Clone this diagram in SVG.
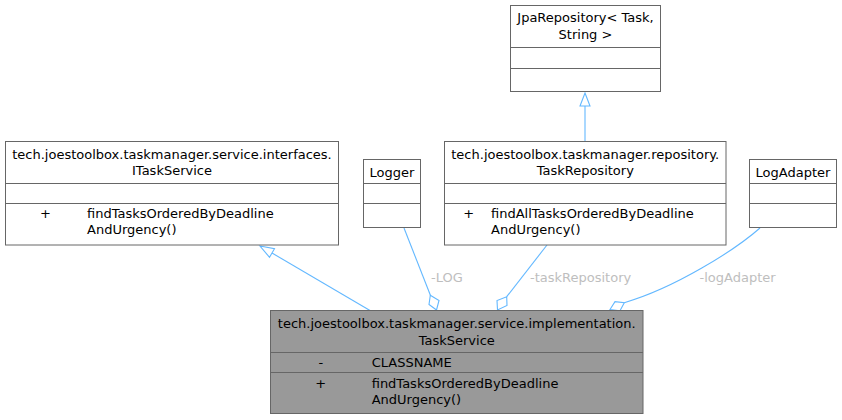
<svg xmlns="http://www.w3.org/2000/svg" width="842" height="420" viewBox="0 0 842 420">
<defs>
<style>
.box{fill:#ffffff;stroke:#666666;stroke-width:1}
.main{fill:#999999;stroke:#666666;stroke-width:1}
.div{stroke:#666666;stroke-width:1;fill:none}
text{font-family:"DejaVu Sans","Liberation Sans",sans-serif;font-size:13px;fill:#000000}
.c{text-anchor:middle}
.lbl{fill:#bebebe}
.edge{stroke:#63b8ff;stroke-width:1.1;fill:none}
.head{stroke:#63b8ff;stroke-width:1.1;fill:#ffffff}
</style>
</defs>
<rect width="842" height="420" fill="#ffffff"/>

<g id="connectors">
  <!-- TaskService -> ITaskService (generalization) -->
  <path class="edge" d="M370,310.5 L272,253"/>
  <polygon class="head" points="260,246 274.5,248.7 269.5,257.3"/>
  <!-- TaskRepository -> JpaRepository (generalization) -->
  <path class="edge" d="M585,141.5 L585,106"/>
  <polygon class="head" points="585,93 590,106 580,106"/>
  <!-- LOG -->
  <path class="edge" d="M404,228 L430.5,295.5"/>
  <polygon class="head" points="430.3,295.3 439,300.5 436.5,310 429,304.5"/>
  <text class="lbl" x="431" y="281.5">-LOG</text>
  <!-- taskRepository -->
  <path class="edge" d="M547,245 L506.7,296.7"/>
  <polygon class="head" points="506.7,296.7 507,305.5 497.5,310 497,300.5"/>
  <text class="lbl" x="530" y="281.5">-taskRepository</text>
  <!-- logAdapter -->
  <path class="edge" d="M760,228 C735,250 675,288 624.3,302.7"/>
  <polygon class="head" points="624.3,302.7 620,310.7 610,309.5 615,301.7"/>
  <text class="lbl" x="699.5" y="281.5">-logAdapter</text>
</g>

<g id="JpaRepository">
  <rect class="box" x="510.5" y="5.5" width="150" height="86"/>
  <line class="div" x1="510.5" y1="47.5" x2="660.5" y2="47.5"/>
  <line class="div" x1="510.5" y1="68.5" x2="660.5" y2="68.5"/>
  <text class="c" x="585.5" y="22">JpaRepository&lt; Task,</text>
  <text class="c" x="585.5" y="39">String &gt;</text>
</g>

<g id="ITaskService">
  <rect class="box" x="5.5" y="141.5" width="333" height="103.5"/>
  <line class="div" x1="5.5" y1="183.5" x2="338.5" y2="183.5"/>
  <line class="div" x1="5.5" y1="203.5" x2="338.5" y2="203.5"/>
  <text class="c" x="172" y="158.5">tech.joestoolbox.taskmanager.service.interfaces.</text>
  <text class="c" x="172" y="175">ITaskService</text>
  <text class="c" x="45.5" y="218">+</text>
  <text x="87" y="218">findTasksOrderedByDeadline</text>
  <text x="87" y="234">AndUrgency()</text>
</g>

<g id="Logger">
  <rect class="box" x="363.5" y="159.5" width="57" height="68"/>
  <line class="div" x1="363.5" y1="183.5" x2="420.5" y2="183.5"/>
  <line class="div" x1="363.5" y1="203.5" x2="420.5" y2="203.5"/>
  <text class="c" x="392" y="176.5">Logger</text>
</g>

<g id="TaskRepository">
  <rect class="box" x="444.5" y="141.5" width="281.5" height="103.5"/>
  <line class="div" x1="444.5" y1="183.5" x2="726" y2="183.5"/>
  <line class="div" x1="444.5" y1="203.5" x2="726" y2="203.5"/>
  <text class="c" x="585.25" y="158.5">tech.joestoolbox.taskmanager.repository.</text>
  <text class="c" x="585.25" y="175">TaskRepository</text>
  <text class="c" x="468.7" y="218">+</text>
  <text x="491" y="218">findAllTasksOrderedByDeadline</text>
  <text x="491" y="234">AndUrgency()</text>
</g>

<g id="LogAdapter">
  <rect class="box" x="749.5" y="159.5" width="87" height="68"/>
  <line class="div" x1="749.5" y1="183.5" x2="836.5" y2="183.5"/>
  <line class="div" x1="749.5" y1="203.5" x2="836.5" y2="203.5"/>
  <text class="c" x="793" y="176.5">LogAdapter</text>
</g>

<g id="TaskService">
  <rect class="main" x="270.5" y="310.5" width="372.5" height="103"/>
  <line class="div" x1="270.5" y1="352.5" x2="643" y2="352.5"/>
  <line class="div" x1="270.5" y1="372.5" x2="643" y2="372.5"/>
  <text class="c" x="456.75" y="327.5">tech.joestoolbox.taskmanager.service.implementation.</text>
  <text class="c" x="456.75" y="344.5">TaskService</text>
  <text class="c" x="320.8" y="366.5">-</text>
  <text x="371.7" y="366.5">CLASSNAME</text>
  <text class="c" x="320.8" y="387.5">+</text>
  <text x="371.7" y="387.5">findTasksOrderedByDeadline</text>
  <text x="371.7" y="403.5">AndUrgency()</text>
</g>
</svg>
